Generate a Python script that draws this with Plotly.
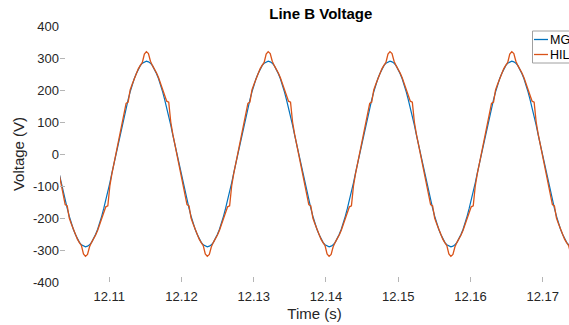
import numpy as np
import plotly.graph_objects as go

# ---------------- data ----------------
T_START = 12.103051      # s, first sample time
T_STEP = 0.00028105      # s, sample interval

mg_voltage = [
    -60, -90, -118, -145, -170, -194, -216, -235, -251, -265, -276, -284, -288, -290, -288, -284, -276, -265, -251, -235, -216, -194, -170, -145, -118, -90, -60, -30, 0, 30, 60, 90, 118, 145, 170, 194, 216, 235, 251, 265, 276, 284, 288,
    290, 288, 284, 276, 265, 251, 235, 216, 194, 170, 145, 118, 90, 60, 30, 0, -30, -60, -90, -118, -145, -170, -194, -216, -235, -251, -265, -276, -284, -288, -290, -288, -284, -276, -265, -251, -235, -216, -194, -170, -145, -118, -90, -60, -30, 0, 30, 60, 90, 118, 145, 170, 194, 216, 235, 251, 265, 276, 284, 288,
    290, 288, 284, 276, 265, 251, 235, 216, 194, 170, 145, 118, 90, 60, 30, 0, -30, -60, -90, -118, -145, -170, -194, -216, -235, -251, -265, -276, -284, -288, -290, -288, -284, -276, -265, -251, -235, -216, -194, -170, -145, -118, -90, -60, -30, 0, 30, 60, 90, 118, 145, 170, 194, 216, 235, 251, 265, 276, 284, 288,
    290, 288, 284, 276, 265, 251, 235, 216, 194, 170, 145, 118, 90, 60, 30, 0, -30, -60, -90, -118, -145, -170, -194, -216, -235, -251, -265, -276, -284, -288, -290, -288, -284, -276, -265, -251, -235, -216, -194, -170, -145, -118, -90, -60, -30, 0, 30, 60, 90, 118, 145, 170, 194, 216, 235, 251, 265, 276, 284, 288,
    290, 288, 284, 276, 265, 251, 235, 216, 194, 170, 145, 118, 90, 60, 30, 0, -30, -60, -90, -118, -145, -170, -194, -216, -235, -251, -265, -276, -284, -288, -290, -288, -284, -276, -265, -251, -235,
]

hil_voltage = [
    -62, -92, -125, -158, -162, -200, -218, -236, -252, -266, -277, -286, -312, -320, -314, -290, -276, -266, -253, -238, -220, -200, -178, -165, -162, -100, -62, -31, 0, 31, 62, 92, 125, 158, 162, 200, 218, 236, 252, 266, 277, 286, 312,
    320, 314, 290, 276, 266, 253, 238, 220, 200, 178, 165, 162, 100, 62, 31, 0, -31, -62, -92, -125, -158, -162, -200, -218, -236, -252, -266, -277, -286, -312, -320, -314, -290, -276, -266, -253, -238, -220, -200, -178, -165, -162, -100, -62, -31, 0, 31, 62, 92, 125, 158, 162, 200, 218, 236, 252, 266, 277, 286, 312,
    320, 314, 290, 276, 266, 253, 238, 220, 200, 178, 165, 162, 100, 62, 31, 0, -31, -62, -92, -125, -158, -162, -200, -218, -236, -252, -266, -277, -286, -312, -320, -314, -290, -276, -266, -253, -238, -220, -200, -178, -165, -162, -100, -62, -31, 0, 31, 62, 92, 125, 158, 162, 200, 218, 236, 252, 266, 277, 286, 312,
    320, 314, 290, 276, 266, 253, 238, 220, 200, 178, 165, 162, 100, 62, 31, 0, -31, -62, -92, -125, -158, -162, -200, -218, -236, -252, -266, -277, -286, -312, -320, -314, -290, -276, -266, -253, -238, -220, -200, -178, -165, -162, -100, -62, -31, 0, 31, 62, 92, 125, 158, 162, 200, 218, 236, 252, 266, 277, 286, 312,
    320, 314, 290, 276, 266, 253, 238, 220, 200, 178, 165, 162, 100, 62, 31, 0, -31, -62, -92, -125, -158, -162, -200, -218, -236, -252, -266, -277, -286, -312, -320, -314, -290, -276, -266, -253, -238,
]

x_ticks = [12.11, 12.12, 12.13, 12.14, 12.15, 12.16, 12.17]
x_tick_labels = ["12.11", "12.12", "12.13", "12.14", "12.15", "12.16", "12.17"]
y_ticks = [-400, -300, -200, -100, 0, 100, 200, 300, 400]
y_tick_labels = ["-400", "-300", "-200", "-100", "0", "100", "200", "300", "400"]
series_names = ["MG", "HIL"]

time = T_START + T_STEP * np.arange(len(mg_voltage))

# ---------------- layout geometry ----------------
W, H = 569, 325
L, R, TOP, BOT = 60, 0, 26, 43
PW, PH = W - L - R, H - TOP - BOT
X_RANGE = [12.103175, 12.103175 + PW / 7223.0]

def px2x(px):
    return (px - L) / PW

def px2y(py):
    return (H - BOT - py) / PH

FONT = "Liberation Sans, Arial, Helvetica, sans-serif"
TXT = "#262626"
C_MG = "#0072BD"
C_HIL = "#D95319"

fig = go.Figure()
fig.add_trace(go.Scatter(x=time, y=mg_voltage, mode="lines", name=series_names[0],
                         line=dict(color=C_MG, width=1.2), showlegend=False))
fig.add_trace(go.Scatter(x=time, y=hil_voltage, mode="lines", name=series_names[1],
                         line=dict(color=C_HIL, width=1.3), showlegend=False))

fig.update_layout(
    width=W, height=H,
    margin=dict(l=L, r=R, t=TOP, b=BOT, pad=0),
    paper_bgcolor="white", plot_bgcolor="white",
    font=dict(family=FONT, color=TXT, size=13),
    title=dict(text="<b>Line B Voltage</b>", font=dict(size=15, color="black"),
               xref="container", x=320.8 / W, xanchor="center",
               yref="container", y=1 - 14 / H, yanchor="middle"),
)

fig.update_xaxes(range=X_RANGE, tickvals=x_ticks, ticktext=x_tick_labels,
                 ticks="inside", ticklen=5, tickcolor="#b5b5b5", tickwidth=1,
                 ticklabelstandoff=5,
                 showgrid=False, zeroline=False, showline=False, automargin=False,
                 tickfont=dict(size=13, color=TXT),
                 title=dict(text="Time (s)", font=dict(size=15, color=TXT), standoff=5))
fig.update_yaxes(range=[-400, 400], tickvals=y_ticks, ticktext=y_tick_labels,
                 ticks="inside", ticklen=5, tickcolor="#b5b5b5", tickwidth=1,
                 showgrid=False, zeroline=False, showline=False, automargin=False,
                 tickfont=dict(size=13, color=TXT),
                 title=dict(text="Voltage (V)", font=dict(size=15, color=TXT), standoff=4))

# legend drawn manually (MATLAB-style box, clipped at the right window edge)
shapes = [
    dict(type="rect", xref="paper", yref="paper",
         x0=px2x(532.5), x1=px2x(620), y0=px2y(63), y1=px2y(31),
         line=dict(color="#a0a0a0", width=1), fillcolor="white", layer="above"),
    dict(type="line", xref="paper", yref="paper",
         x0=px2x(534), x1=px2x(548), y0=px2y(39.5), y1=px2y(39.5),
         line=dict(color=C_MG, width=1.3), layer="above"),
    dict(type="line", xref="paper", yref="paper",
         x0=px2x(534), x1=px2x(548), y0=px2y(54.5), y1=px2y(54.5),
         line=dict(color=C_HIL, width=1.3), layer="above"),
]
fig.update_layout(shapes=shapes)
for name, py in zip(series_names, [39.5, 54.5]):
    fig.add_annotation(text=name, xref="paper", yref="paper", x=px2x(547.5), y=px2y(py),
                       xanchor="left", yanchor="middle", showarrow=False,
                       font=dict(size=12.5, color="black", family=FONT))

fig.write_html("out.html")
